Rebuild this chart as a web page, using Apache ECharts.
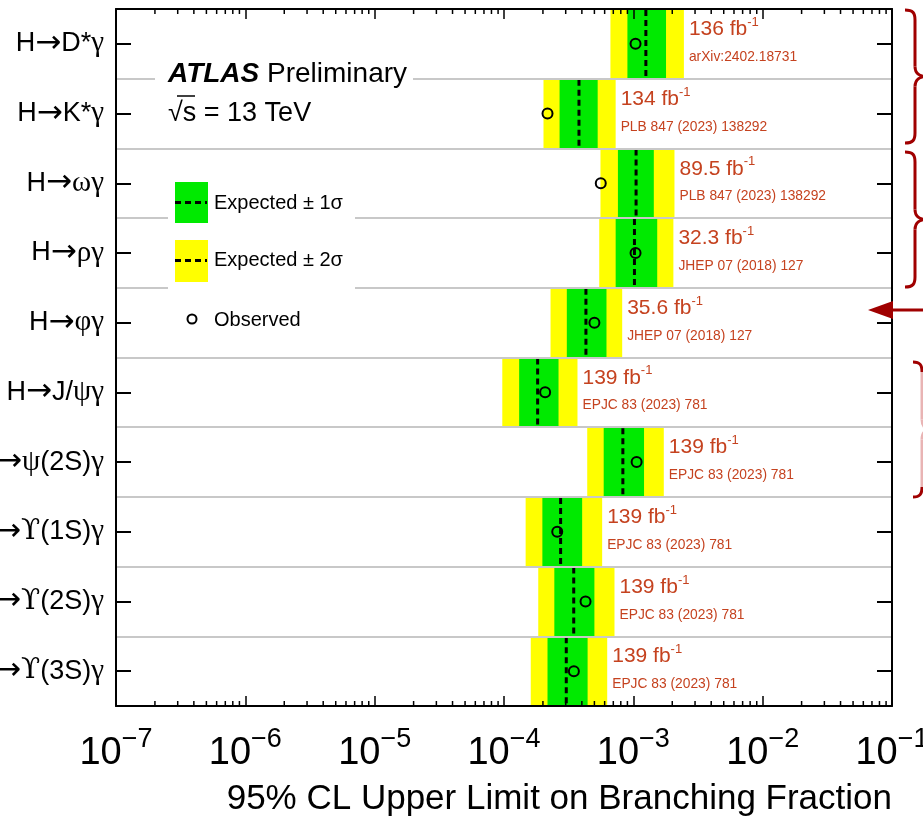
<!DOCTYPE html>
<html>
<head>
<meta charset="utf-8">
<title>Upper limits on Higgs boson decays to a meson and a photon</title>
<script src="https://cdn.jsdelivr.net/npm/echarts@6.0.0/dist/echarts.min.js"></script>
<style>
  html, body { margin: 0; padding: 0; background: #ffffff; }
  #chart { width: 923px; height: 828px; }
</style>
</head>
<body>
<div id="chart"></div>
<script>
// Decay channels, top to bottom
const categories = ['H→D*γ', 'H→K*γ', 'H→ωγ', 'H→ργ', 'H→φγ', 'H→J/ψγ', 'H→ψ(2S)γ', 'H→ϒ(1S)γ', 'H→ϒ(2S)γ', 'H→ϒ(3S)γ'];

// 95% CL upper limits on the branching fraction
const expected = [1.25e-3, 3.8e-4, 1.05e-3, 1.02e-3, 4.3e-4, 1.82e-4, 8.3e-4, 2.74e-4, 3.46e-4, 3.03e-4];
const observed = [1.04e-3, 2.17e-4, 5.6e-4, 1.04e-3, 5.0e-4, 2.08e-4, 1.06e-3, 2.58e-4, 4.27e-4, 3.47e-4];
const minus1 = [9.0e-4, 2.69e-4, 7.6e-4, 7.3e-4, 3.06e-4, 1.31e-4, 5.9e-4, 1.98e-4, 2.45e-4, 2.17e-4];
const plus1 = [1.79e-3, 5.3e-4, 1.44e-3, 1.53e-3, 6.2e-4, 2.64e-4, 1.21e-3, 4.02e-4, 5.0e-4, 4.43e-4];
const minus2 = [6.65e-4, 2.02e-4, 5.57e-4, 5.45e-4, 2.29e-4, 9.7e-5, 4.4e-4, 1.47e-4, 1.84e-4, 1.61e-4];
const plus2 = [2.46e-3, 7.3e-4, 2.08e-3, 2.04e-3, 8.2e-4, 3.7e-4, 1.72e-3, 5.74e-4, 7.15e-4, 6.28e-4];

// Integrated luminosity (fb^-1) and publication of each result
const lumi = ['136', '134', '89.5', '32.3', '35.6', '139', '139', '139', '139', '139'];
const refs = ['arXiv:2402.18731', 'PLB 847 (2023) 138292', 'PLB 847 (2023) 138292', 'JHEP 07 (2018) 127',
  'JHEP 07 (2018) 127', 'EPJC 83 (2023) 781', 'EPJC 83 (2023) 781', 'EPJC 83 (2023) 781',
  'EPJC 83 (2023) 781', 'EPJC 83 (2023) 781'];

// Axis range, in decades
const xMin = 1e-7;
const xMax = 1e-1;

const FONT = "'Liberation Sans', Arial, Helvetica, sans-serif";
const SERIF = "'Liberation Serif', 'Times New Roman', serif";
const GREEN = '#00ea00';
const YELLOW = '#ffff00';
const REF_RED = '#c5421f';
const BRACE_RED = '#a00000';

const bandRows = categories.map((c, i) => [minus2[i], plus2[i], minus1[i], plus1[i], expected[i], i]);
const observedPoints = categories.map((c, i) => [observed[i], i]);

// minor log ticks (2..9 in every decade)
const minorTicks = [];
for (let e = Math.round(Math.log10(xMin)); e < Math.round(Math.log10(xMax)); e++) {
  for (let m = 2; m <= 9; m++) minorTicks.push([m * Math.pow(10, e), 0]);
}

// channel names: arrow and Greek letters set in their own fonts
function channelLabel(s) {
  let out = '';
  for (const ch of s) {
    let k = 'n';
    if (ch === '→') k = 'r';
    else if (ch === 'ϒ') k = 'u';
    else if (/[γωρφψ]/.test(ch)) k = 'g';
    out += '{' + k + '|' + ch + '}';
  }
  return out;
}

function renderBand(params, api) {
  const cs = params.coordSys;
  const rowH = cs.height / categories.length;
  const i = api.value(5);
  const yc = api.coord([api.value(4), i])[1];
  const y0 = yc - rowH / 2;
  const x2a = api.coord([api.value(0), i])[0];
  const x2b = api.coord([api.value(1), i])[0];
  const x1a = api.coord([api.value(2), i])[0];
  const x1b = api.coord([api.value(3), i])[0];
  const xe = api.coord([api.value(4), i])[0];
  return {
    type: 'group',
    children: [
      { type: 'rect', shape: { x: x2a, y: y0, width: x2b - x2a, height: rowH }, style: { fill: YELLOW } },
      { type: 'rect', shape: { x: x1a, y: y0, width: x1b - x1a, height: rowH }, style: { fill: GREEN } },
      { type: 'line', shape: { x1: xe, y1: y0 + 1, x2: xe, y2: y0 + rowH - 1 },
        style: { stroke: '#000', lineWidth: 3, lineDash: [6, 4] } },
      { type: 'text', x: x2b + 5, y: yc - 28,
        style: {
          text: '{a|' + lumi[i] + ' fb}{s|-1}',
          verticalAlign: 'top', align: 'left',
          rich: {
            a: { fontSize: 21, lineHeight: 22, padding: [5, 0, 0, 0], fontFamily: FONT, fill: REF_RED },
            s: { fontSize: 13, lineHeight: 13, verticalAlign: 'top', fontFamily: FONT, fill: REF_RED }
          }
        } },
      { type: 'text', x: x2b + 5, y: yc + 13, scaleX: 0.92,
        style: { text: refs[i], fontSize: 15, fontFamily: FONT, fill: REF_RED, verticalAlign: 'middle', align: 'left' } }
    ]
  };
}

function renderMinorTick(params, api) {
  const cs = params.coordSys;
  const x = api.coord([api.value(0), 0])[0];
  const yb = cs.y + cs.height;
  return {
    type: 'group',
    children: [
      { type: 'line', shape: { x1: x, y1: yb, x2: x, y2: yb - 5 }, style: { stroke: '#000', lineWidth: 1.5 } },
      { type: 'line', shape: { x1: x, y1: cs.y, x2: x, y2: cs.y + 5 }, style: { stroke: '#000', lineWidth: 1.5 } }
    ]
  };
}

function brace(x0, xv, xt, top, bottom, color, midColor) {
  const mid = (top + bottom) / 2;
  const r = 10;
  const st = { stroke: color, lineWidth: 3, fill: 'none' };
  const sm = { stroke: midColor || color, lineWidth: 3, fill: 'none' };
  return [
    { type: 'bezierCurve', shape: { x1: x0, y1: top, cpx1: xv - 2, cpy1: top, cpx2: xv, cpy2: top + 3, x2: xv, y2: top + r }, style: st, z: 60 },
    { type: 'line', shape: { x1: xv, y1: top + r, x2: xv, y2: mid - r }, style: sm, z: 60 },
    { type: 'bezierCurve', shape: { x1: xv, y1: mid - r, cpx1: xv, cpy1: mid - 3, cpx2: xt - 6, cpy2: mid, x2: xt, y2: mid }, style: sm, z: 60 },
    { type: 'bezierCurve', shape: { x1: xt, y1: mid, cpx1: xt - 6, cpy1: mid, cpx2: xv, cpy2: mid + 3, x2: xv, y2: mid + r }, style: sm, z: 60 },
    { type: 'line', shape: { x1: xv, y1: mid + r, x2: xv, y2: bottom - r }, style: sm, z: 60 },
    { type: 'bezierCurve', shape: { x1: xv, y1: bottom - r, cpx1: xv, cpy1: bottom - 3, cpx2: xv - 2, cpy2: bottom, x2: x0, y2: bottom }, style: st, z: 60 }
  ];
}

const axisLineStyle = { show: true, lineStyle: { color: '#000', width: 2 } };

const chart = echarts.init(document.getElementById('chart'), null, { renderer: 'canvas' });

chart.setOption({
  animation: false,
  backgroundColor: '#ffffff',
  grid: { left: 116, right: 31, top: 9, bottom: 122, containLabel: false, outerBoundsMode: 'none' },
  xAxis: [
    {
      type: 'log', logBase: 10, min: xMin, max: xMax, splitNumber: 6, position: 'bottom', z: 3,
      axisLine: axisLineStyle,
      axisTick: { show: true, inside: true, length: 10, lineStyle: { color: '#000', width: 1.5 } },
      minorTick: { show: false },
      splitLine: { show: false },
      axisLabel: {
        margin: 12,
        color: '#000',
        formatter: function (v) {
          const e = Math.round(Math.log10(v));
          return '{b|10}{s|' + (e < 0 ? '−' : '') + Math.abs(e) + '}';
        },
        rich: {
          b: { fontSize: 38, lineHeight: 38, padding: [34, 0, 0, 0], fontFamily: FONT, color: '#000' },
          s: { fontSize: 27, lineHeight: 27, padding: [8, 0, 0, 0], verticalAlign: 'top', fontFamily: FONT, color: '#000' }
        }
      },
      name: '95% CL Upper Limit on Branching Fraction',
      nameLocation: 'end',
      nameGap: 0,
      nameMoveOverlap: false,
      nameTextStyle: { fontSize: 35, fontFamily: FONT, color: '#000', align: 'right', verticalAlign: 'top', padding: [76, 0, 0, 0] }
    },
    {
      type: 'log', logBase: 10, min: xMin, max: xMax, splitNumber: 6, position: 'top', z: 3,
      axisLine: axisLineStyle,
      axisTick: { show: true, inside: true, length: 10, lineStyle: { color: '#000', width: 1.5 } },
      axisLabel: { show: false },
      splitLine: { show: false }
    }
  ],
  yAxis: [
    {
      type: 'category', data: categories, inverse: true, position: 'left', z: 3,
      axisLine: axisLineStyle,
      axisTick: { show: true, inside: true, alignWithLabel: true, interval: 0, length: 15, lineStyle: { color: '#000', width: 2 } },
      axisLabel: {
        interval: 0, margin: 12, color: '#000',
        formatter: channelLabel,
        rich: {
          n: { fontSize: 27, fontFamily: FONT, color: '#000' },
          r: { fontSize: 31, fontFamily: "'DejaVu Sans', sans-serif", color: '#000' },
          g: { fontSize: 29, fontFamily: SERIF, color: '#000' },
          u: { fontSize: 28, fontFamily: "'DejaVu Serif', 'DejaVu Sans', serif", color: '#000' }
        }
      },
      splitLine: { show: true, interval: 0, lineStyle: { color: '#c8c8c8', width: 2 } }
    },
    {
      type: 'category', data: categories, inverse: true, position: 'right', z: 3,
      axisLine: axisLineStyle,
      axisTick: { show: true, inside: true, alignWithLabel: true, interval: 0, length: 15, lineStyle: { color: '#000', width: 2 } },
      axisLabel: { show: false },
      splitLine: { show: false }
    }
  ],
  series: [
    {
      type: 'custom', name: 'Expected', xAxisIndex: 0, yAxisIndex: 0, z: 2, silent: true,
      renderItem: renderBand,
      encode: { x: [0, 1, 2, 3, 4], y: 5 },
      data: bandRows
    },
    {
      type: 'custom', name: 'minor ticks', xAxisIndex: 0, yAxisIndex: 0, z: 4, silent: true,
      renderItem: renderMinorTick,
      encode: { x: 0, y: 1 },
      data: minorTicks
    },
    {
      type: 'scatter', name: 'Observed', xAxisIndex: 0, yAxisIndex: 0, z: 5, silent: true,
      symbol: 'circle', symbolSize: 10,
      itemStyle: { color: 'rgba(0,0,0,0)', borderColor: '#000', borderWidth: 2, opacity: 1 },
      data: observedPoints
    }
  ],
  graphic: [
    // white backgrounds behind the labels
    { type: 'rect', shape: { x: 155, y: 68, width: 258, height: 22 }, style: { fill: '#fff' }, z: 50, silent: true },
    { type: 'rect', shape: { x: 168, y: 172, width: 187, height: 160 }, style: { fill: '#fff' }, z: 50, silent: true },
    {
      type: 'text', x: 168, y: 74, z: 51, silent: true,
      style: {
        text: '{a|ATLAS} {b|Preliminary}', verticalAlign: 'middle', align: 'left',
        fontSize: 28, fontFamily: FONT, fill: '#000',
        rich: {
          a: { fontSize: 28, fontWeight: 'bold', fontStyle: 'italic', fontFamily: FONT, fill: '#000' },
          b: { fontSize: 28, fontFamily: FONT, fill: '#000' }
        }
      }
    },
    {
      type: 'text', x: 168, y: 114, z: 51, silent: true,
      style: { text: '√s = 13 TeV', verticalAlign: 'middle', align: 'left', fontSize: 27, fontFamily: FONT, fill: '#000' }
    },
    { type: 'line', shape: { x1: 177, y1: 96, x2: 195, y2: 96 }, style: { stroke: '#000', lineWidth: 1.5 }, z: 51, silent: true },
    // legend
    { type: 'rect', shape: { x: 175, y: 182, width: 33, height: 41 }, style: { fill: GREEN }, z: 51, silent: true },
    { type: 'line', shape: { x1: 175, y1: 202.5, x2: 207, y2: 202.5 }, style: { stroke: '#000', lineWidth: 3, lineDash: [6, 4] }, z: 52, silent: true },
    { type: 'text', x: 214, y: 203, z: 52, silent: true,
      style: { text: 'Expected ± 1σ', verticalAlign: 'middle', align: 'left', fontSize: 20, fontFamily: FONT, fill: '#000' } },
    { type: 'rect', shape: { x: 175, y: 240, width: 33, height: 42 }, style: { fill: YELLOW }, z: 51, silent: true },
    { type: 'line', shape: { x1: 175, y1: 260.5, x2: 207, y2: 260.5 }, style: { stroke: '#000', lineWidth: 3, lineDash: [6, 4] }, z: 52, silent: true },
    { type: 'text', x: 214, y: 260, z: 52, silent: true,
      style: { text: 'Expected ± 2σ', verticalAlign: 'middle', align: 'left', fontSize: 20, fontFamily: FONT, fill: '#000' } },
    { type: 'circle', shape: { cx: 192, cy: 319, r: 4.5 }, style: { fill: 'none', stroke: '#000', lineWidth: 2 }, z: 52, silent: true },
    { type: 'text', x: 214, y: 320, z: 52, silent: true,
      style: { text: 'Observed', verticalAlign: 'middle', align: 'left', fontSize: 20, fontFamily: FONT, fill: '#000' } },
    // grouping braces and arrow on the right margin
    ...brace(905, 915, 926, 10, 143, BRACE_RED),
    ...brace(905, 915, 926, 152, 287, BRACE_RED),
    ...brace(913, 922, 932, 362, 497, BRACE_RED, '#e9b4b4'),
    { type: 'line', shape: { x1: 888, y1: 310, x2: 923, y2: 310 }, style: { stroke: BRACE_RED, lineWidth: 3 }, z: 60, silent: true },
    { type: 'polygon', shape: { points: [[868, 310], [893, 301], [893, 319]] }, style: { fill: BRACE_RED }, z: 60, silent: true }
  ]
});
</script>
</body>
</html>
